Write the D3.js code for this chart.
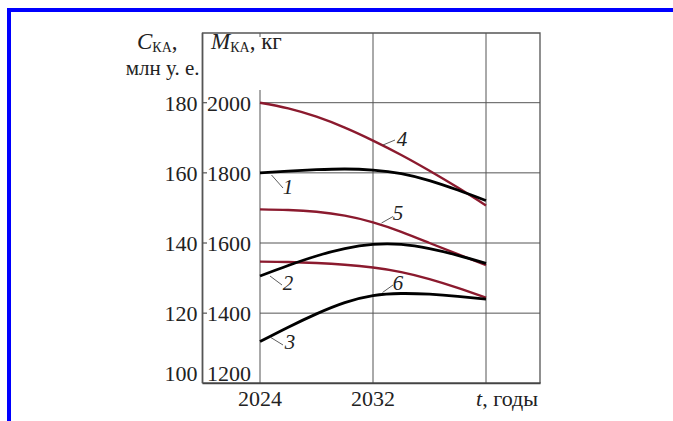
<!DOCTYPE html>
<html>
<head>
<meta charset="utf-8">
<script src="https://cdn.jsdelivr.net/npm/d3@7"></script>
<style>
  html, body { margin: 0; padding: 0; background: #fff; }
  svg { display: block; }
  text { font-family: "Liberation Serif", "DejaVu Serif", serif; fill: #222; }
</style>
</head>
<body>
<script>
// Years on the horizontal axis
const years = [2024, 2026, 2028, 2030, 2032, 2034, 2036, 2038, 2040];

// Cost of a spacecraft, million conventional units (curves 1-3)
const cost1 = [160.0, 160.5, 160.9, 161.1, 160.8, 159.8, 157.8, 155.1, 152.1];
const cost2 = [130.6, 133.6, 136.3, 138.4, 139.6, 139.6, 138.4, 136.5, 134.2];
const cost3 = [111.9, 116.0, 119.8, 123.0, 125.0, 125.6, 125.4, 124.8, 124.0];

// Mass of a spacecraft, kg (curves 4-6)
const mass4 = [2000, 1984, 1960, 1929, 1892, 1851, 1806, 1758, 1707];
const mass5 = [1696, 1694, 1689, 1678, 1659, 1632, 1600, 1568, 1537];
const mass6 = [1547, 1546, 1543, 1538, 1530, 1517, 1497, 1472, 1444];

// Tick labels
const costTicks = [100, 120, 140, 160, 180];
const massTicks = [1200, 1400, 1600, 1800, 2000];
const yearTicks = [2024, 2032];
const gridYears = [2024, 2032, 2040];

const W = 673, H = 421;
const svg = d3.select("body").append("svg").attr("width", W).attr("height", H);

// Page border
svg.append("path")
  .attr("d", "M9,421 V10 H673")
  .attr("fill", "none").attr("stroke", "#0000ff").attr("stroke-width", 4);

const x = d3.scaleLinear().domain([2024, 2040]).range([260, 486]);
const yM = d3.scaleLinear().domain([1200, 2000]).range([383.3, 102.7]);
const yC = d3.scaleLinear().domain([100, 180]).range([383.3, 102.7]);

const frame = { left: 202.5, right: 540, top: 33, bottom: 383.3 };
const gridColor = "#555";

// Horizontal grid lines
svg.append("g").selectAll("line")
  .data(massTicks.slice(1))
  .join("line")
  .attr("x1", x(2024)).attr("x2", frame.right)
  .attr("y1", d => yM(d)).attr("y2", d => yM(d))
  .attr("stroke", gridColor).attr("stroke-width", 1);

// Vertical grid lines
svg.append("g").selectAll("line")
  .data(gridYears)
  .join("line")
  .attr("x1", d => x(d)).attr("x2", d => x(d))
  .attr("y1", d => d === 2024 ? 90 : frame.top).attr("y2", frame.bottom)
  .attr("stroke", gridColor).attr("stroke-width", 1);

// small mark at the top of the 2024 line
svg.append("line")
  .attr("x1", x(2024)).attr("x2", x(2024))
  .attr("y1", frame.top).attr("y2", frame.top + 4)
  .attr("stroke", gridColor).attr("stroke-width", 1);

// Frame
svg.append("path")
  .attr("d", `M${frame.left},${frame.bottom} V${frame.top} H${frame.right} V${frame.bottom}`)
  .attr("fill", "none").attr("stroke", gridColor).attr("stroke-width", 1.3);
svg.append("line")
  .attr("x1", frame.left).attr("x2", frame.right + 0.6)
  .attr("y1", frame.bottom).attr("y2", frame.bottom)
  .attr("stroke", "#444").attr("stroke-width", 2);
svg.append("line")
  .attr("x1", frame.left).attr("x2", frame.left)
  .attr("y1", frame.top).attr("y2", frame.bottom)
  .attr("stroke", "#555").attr("stroke-width", 1.6);

// Left ticks between the two scales
svg.append("g").selectAll("line")
  .data(costTicks.slice(1))
  .join("line")
  .attr("x1", frame.left).attr("x2", frame.left + 4.5)
  .attr("y1", d => yC(d)).attr("y2", d => yC(d))
  .attr("stroke", "#555").attr("stroke-width", 1.2);

// the lowest labels sit just above the bottom edge
const labelY = (v, s) => v === s.domain()[0] ? s(v) - 2 : s(v) + 8;

// Cost scale labels
svg.append("g").selectAll("text")
  .data(costTicks)
  .join("text")
  .attr("x", 197.5).attr("y", d => labelY(d, yC))
  .attr("text-anchor", "end").attr("font-size", 22)
  .text(d => d);

// Mass scale labels
svg.append("g").selectAll("text")
  .data(massTicks)
  .join("text")
  .attr("x", 207).attr("y", d => labelY(d, yM))
  .attr("text-anchor", "start").attr("font-size", 22)
  .text(d => d);

// Year labels
svg.append("g").selectAll("text")
  .data(yearTicks)
  .join("text")
  .attr("x", d => x(d)).attr("y", 406)
  .attr("text-anchor", "middle").attr("font-size", 22)
  .text(d => d);

const tLab = svg.append("text").attr("x", 538).attr("y", 406)
  .attr("text-anchor", "end").attr("font-size", 22);
tLab.append("tspan").attr("font-style", "italic").text("t");
tLab.append("tspan").text(", годы");

// Axis titles
const cTitle = svg.append("text").attr("x", 137).attr("y", 49).attr("font-size", 23);
cTitle.append("tspan").attr("font-style", "italic").text("C");
cTitle.append("tspan").attr("font-size", 14).attr("dy", 3).text("КА");
cTitle.append("tspan").attr("dy", -3).text(",");
svg.append("text").attr("x", 199.5).attr("y", 75)
  .attr("text-anchor", "end").attr("font-size", 21).text("млн у. е.");

const mTitle = svg.append("text").attr("x", 211).attr("y", 49).attr("font-size", 23);
mTitle.append("tspan").attr("font-style", "italic").text("M");
mTitle.append("tspan").attr("font-size", 14).attr("dy", 3).text("КА");
mTitle.append("tspan").attr("dy", -3).text(", кг");

// Curves
const red = "#8b1a2e";
const lineC = d3.line().x((d, i) => x(years[i])).y(d => yC(d)).curve(d3.curveNatural);
const lineM = d3.line().x((d, i) => x(years[i])).y(d => yM(d)).curve(d3.curveNatural);

[mass4, mass5, mass6].forEach(s => {
  svg.append("path").attr("d", lineM(s))
    .attr("fill", "none").attr("stroke", red).attr("stroke-width", 2.4);
});
[cost1, cost2, cost3].forEach(s => {
  svg.append("path").attr("d", lineC(s))
    .attr("fill", "none").attr("stroke", "#000").attr("stroke-width", 2.8);
});

// Curve numbers with leader lines
const curveLabels = [
  { n: "1", lx: 288, ly: 194, l: [271.5, 175, 283, 188] },
  { n: "2", lx: 288, ly: 290, l: [270, 276, 282, 285] },
  { n: "3", lx: 290, ly: 349, l: [270, 337, 283, 345] },
  { n: "4", lx: 402, ly: 146, l: [383, 145, 395, 140] },
  { n: "5", lx: 398, ly: 220, l: [381.5, 223, 393, 216.5] },
  { n: "6", lx: 398, ly: 290, l: [382.5, 292.5, 393, 285] }
];
const lab = svg.append("g");
lab.selectAll("line").data(curveLabels).join("line")
  .attr("x1", d => d.l[0]).attr("y1", d => d.l[1])
  .attr("x2", d => d.l[2]).attr("y2", d => d.l[3])
  .attr("stroke", "#333").attr("stroke-width", 0.8);
lab.selectAll("text").data(curveLabels).join("text")
  .attr("x", d => d.lx).attr("y", d => d.ly)
  .attr("text-anchor", "middle").attr("font-size", 21).attr("font-style", "italic")
  .text(d => d.n);
</script>
</body>
</html>
